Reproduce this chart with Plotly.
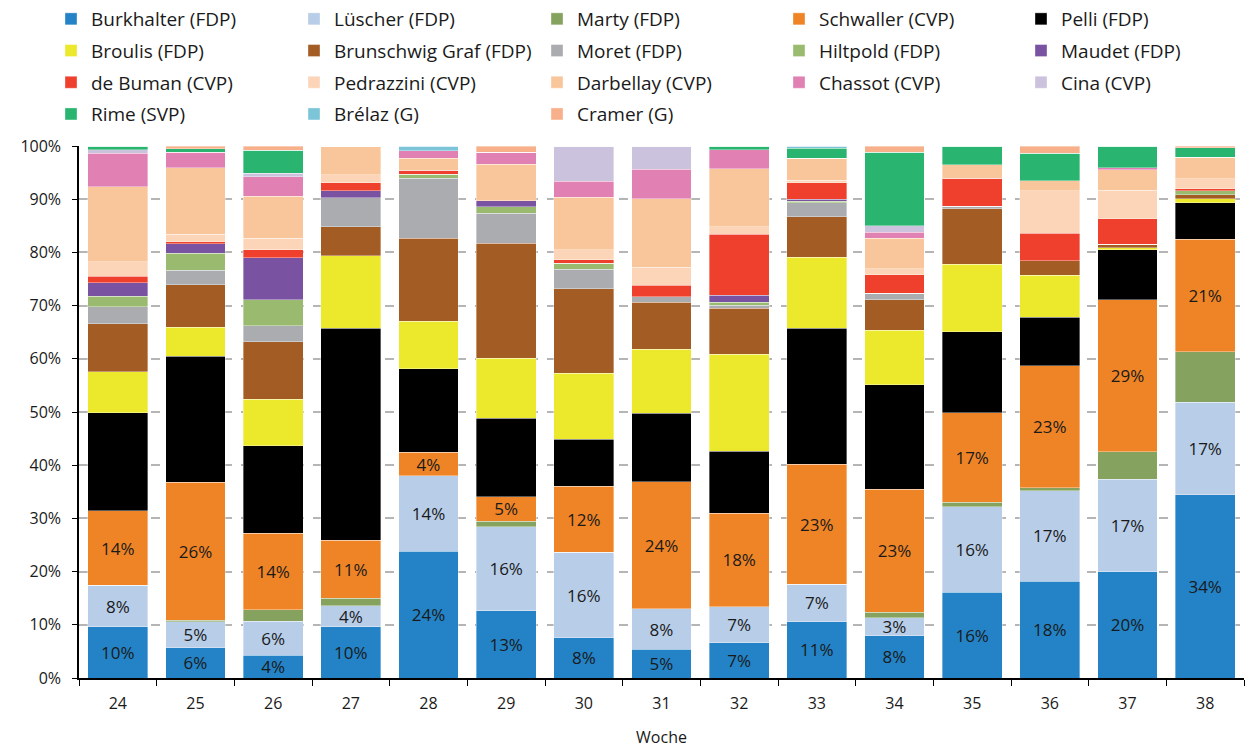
import plotly.graph_objects as go

weeks = ["24", "25", "26", "27", "28", "29", "30", "31", "32", "33", "34", "35", "36", "37", "38"]

burkhalter   = [9.6, 5.7, 4.3, 9.6, 23.8, 12.6, 7.6, 5.4, 6.6, 10.6, 7.9, 16.1, 18.2, 20.0, 34.4]
luescher     = [7.8, 4.9, 6.4, 4.0, 14.2, 15.8, 16.0, 7.6, 6.8, 7.0, 3.4, 16.1, 17.0, 17.4, 17.4]
marty        = [0.0, 0.3, 2.1, 1.4, 0.0, 1.1, 0.0, 0.0, 0.0, 0.0, 1.1, 0.8, 0.6, 5.1, 9.5]
schwaller    = [14.0, 25.9, 14.4, 10.9, 4.4, 4.6, 12.4, 23.9, 17.6, 22.6, 23.1, 16.9, 22.9, 28.6, 21.2]
pelli        = [18.5, 23.7, 16.5, 39.8, 15.7, 14.7, 8.9, 12.9, 11.6, 25.5, 19.6, 15.2, 9.1, 9.4, 6.8]
broulis      = [7.7, 5.4, 8.7, 13.7, 9.0, 11.3, 12.4, 12.0, 18.3, 13.4, 10.3, 12.7, 7.9, 0.4, 0.8]
brunschwig   = [9.0, 8.0, 10.8, 5.4, 15.6, 21.6, 15.9, 8.8, 8.6, 7.6, 5.7, 10.4, 2.7, 0.6, 0.7]
moret        = [3.2, 2.7, 3.0, 5.5, 11.2, 5.7, 3.6, 1.1, 0.6, 2.6, 1.2, 0.5, 0.0, 0.0, 0.0]
hiltpold     = [2.0, 3.2, 4.9, 0.0, 0.8, 1.2, 1.2, 0.0, 0.5, 0.3, 0.0, 0.0, 0.0, 0.0, 0.8]
maudet       = [2.5, 1.8, 7.9, 1.3, 0.0, 1.1, 0.0, 0.0, 1.3, 0.4, 0.0, 0.0, 0.0, 0.0, 0.0]
de_buman     = [1.2, 0.4, 1.5, 1.5, 0.7, 0.0, 0.6, 2.1, 11.5, 3.1, 3.5, 5.2, 5.2, 4.8, 0.4]
pedrazzini   = [2.7, 1.4, 2.2, 1.5, 0.0, 0.0, 1.9, 3.4, 1.4, 0.5, 1.1, 0.0, 8.0, 5.4, 1.8]
darbellay    = [14.1, 12.5, 7.9, 5.4, 2.3, 6.9, 9.9, 12.9, 10.9, 4.1, 5.8, 2.6, 1.9, 3.8, 4.1]
chassot      = [6.3, 2.9, 3.6, 0.0, 1.4, 2.2, 3.0, 5.5, 3.6, 0.0, 1.1, 0.0, 0.0, 0.4, 0.0]
cina         = [0.7, 0.0, 0.7, 0.0, 0.0, 0.0, 6.6, 4.4, 0.0, 0.0, 1.2, 0.0, 0.0, 0.0, 0.0]
rime         = [0.7, 0.7, 4.3, 0.0, 0.0, 0.0, 0.0, 0.0, 0.7, 1.9, 13.8, 3.5, 5.1, 4.1, 1.8]
brelaz       = [0.0, 0.0, 0.0, 0.0, 0.9, 0.0, 0.0, 0.0, 0.0, 0.4, 0.0, 0.0, 0.0, 0.0, 0.0]
cramer       = [0.0, 0.5, 0.8, 0.0, 0.0, 1.2, 0.0, 0.0, 0.0, 0.0, 1.2, 0.0, 1.4, 0.0, 0.3]

series = [
    ("Burkhalter (FDP)", burkhalter, "#2383C6", True),
    ("Lüscher (FDP)", luescher, "#B7CDE8", True),
    ("Marty (FDP)", marty, "#85A35E", False),
    ("Schwaller (CVP)", schwaller, "#EF8426", True),
    ("Pelli (FDP)", pelli, "#000000", False),
    ("Broulis (FDP)", broulis, "#ECE82C", False),
    ("Brunschwig Graf (FDP)", brunschwig, "#A45C25", False),
    ("Moret (FDP)", moret, "#AAACAF", False),
    ("Hiltpold (FDP)", hiltpold, "#9ABB6F", False),
    ("Maudet (FDP)", maudet, "#7952A1", False),
    ("de Buman (CVP)", de_buman, "#EE402C", False),
    ("Pedrazzini (CVP)", pedrazzini, "#FCD5B8", False),
    ("Darbellay (CVP)", darbellay, "#F9C59B", False),
    ("Chassot (CVP)", chassot, "#E080B3", False),
    ("Cina (CVP)", cina, "#CBC2DD", False),
    ("Rime (SVP)", rime, "#29B46F", False),
    ("Brélaz (G)", brelaz, "#7CC5D8", False),
    ("Cramer (G)", cramer, "#F7B08A", False),
]

FONT = "Open Sans"
legend_names = ["legend", "legend2", "legend3", "legend4", "legend5"]

fig = go.Figure()
for i, (name, vals, color, labelled) in enumerate(series):
    kw = {}
    if labelled:
        kw = dict(texttemplate="%{y:.0f}%", textposition="inside",
                  insidetextanchor="middle", textangle=0, constraintext="none",
                  insidetextfont=dict(family=FONT, size=17, color="#1a1a1a"))
    fig.add_trace(go.Bar(
        x=weeks, y=vals, name=name,
        marker=dict(color=color, line=dict(color="rgba(255,255,255,0.6)", width=0.6)),
        legend=legend_names[i % 5], legendgroup=name,
        hoverinfo="name+y",
        **kw,
    ))

W, H = 1245, 748
L, R, T, B = 79, 1, 145, 70
pw, ph = W - L - R, H - T - B
text_start = [92, 335, 578, 820, 1062]
box_top = -0.5
legends = {}
for k, ln in enumerate(legend_names):
    legends[ln] = dict(orientation="v", traceorder="grouped", tracegroupgap=4,
                       font=dict(family=FONT, size=19, color="#1a1a1a"),
                       bgcolor="rgba(0,0,0,0)", borderwidth=0,
                       xanchor="left", yanchor="top",
                       x=(text_start[k] - 41 - L) / pw,
                       y=1 + (T - box_top) / ph,
                       itemclick=False)

fig.update_layout(
    width=W, height=H,
    margin=dict(l=L, r=R, t=T, b=B),
    barmode="stack", bargap=0.23,
    plot_bgcolor="white", paper_bgcolor="white",
    font=dict(family=FONT, size=16, color="#1a1a1a"),
    **legends,
)
fig.update_yaxes(range=[0, 100], tickvals=list(range(0, 101, 10)),
                 ticktext=[f"{v}%" for v in range(0, 101, 10)],
                 showline=True, linecolor="black", linewidth=1.5,
                 ticks="outside", ticklen=5, tickcolor="black", tickwidth=1.2,
                 ticklabelstandoff=8,
                 showgrid=True, gridcolor="#B5B5B5", griddash="dash", gridwidth=1.5,
                 zeroline=False, tickfont=dict(size=16))
fig.update_xaxes(type="category", showline=True, linecolor="black", linewidth=1.5,
                 ticks="outside", ticklen=6, tickcolor="black", tickwidth=1.2,
                 tickson="boundaries", showgrid=False, ticklabelstandoff=10,
                 title=dict(text="Woche", font=dict(size=16), standoff=20),
                 tickfont=dict(size=16))

fig.write_html("out.html", config={"displayModeBar": False},
               post_script="document.body.style.margin='0px';")
